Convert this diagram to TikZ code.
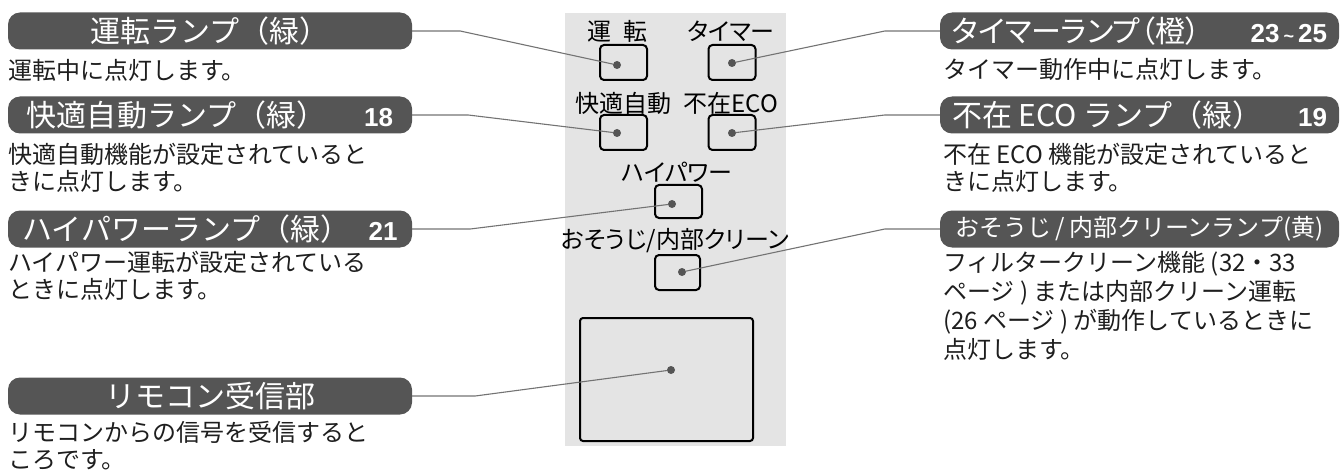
\documentclass[tikz,border=0pt]{standalone}
\usepackage{fontspec}
\newfontfamily\jp{Noto Sans CJK JP}
\newfontfamily\jpp[RawFeature=+palt]{Noto Sans CJK JP}
\newfontfamily\numf{Liberation Sans}
\usetikzlibrary{positioning}
\definecolor{pillgray}{RGB}{85,85,85}
\definecolor{panelgray}{RGB}{228,228,228}
\definecolor{leadgray}{RGB}{115,115,115}
\definecolor{descgray}{RGB}{30,30,30}
\tikzset{pill/.style={fill=pillgray,rounded corners=12pt,minimum height=37pt,inner sep=0pt,text=white,font=\jp\fontsize{30}{30}\selectfont},
         lpill/.style={pill,minimum width=404pt},
         rpill/.style={pill,minimum width=399pt},
         desc/.style={anchor=north west,inner sep=0pt,align=left,text=descgray,font=\jp\fontsize{24}{27}\selectfont},
         lamp/.style={draw,line width=2pt,rounded corners=4pt,minimum width=47pt,minimum height=35pt},
         ldot/.style={circle,fill=pillgray,inner sep=0pt,minimum size=8pt},
         tag/.style={inner sep=0pt,font=\jpp\fontsize{24}{24}\selectfont},
         lead/.style={leadgray,line width=1.1pt}}
\newcommand{\nr}[1]{{\numf\bfseries\fontsize{26}{26}\selectfont #1}}

\begin{document}
\begin{tikzpicture}[x=1pt,y=-1pt]
        \useasboundingbox(0,0)rectangle(1343,473);

        \node[fill=panelgray,minimum width=221pt,minimum height=433pt,inner sep=0pt](panel)at(675.5,229.5){};

        \node[tag](t1)at(617,31){運\hspace{12pt}転};
        \node[tag](t2)at(731,31){タイマー};
        \node[tag](t3)at(623,103){快適自動};
        \node[tag](t4)at(731,103){不在ECO};
        \node[tag](t5)at(677,172){ハイパワー};
        \node[tag](t6)at(675,241){おそうじ/内部クリーン};

        \node[lamp](k1)at(623.5,62.5){};
        \node[lamp](k2)at(732,62.5){};
        \node[lamp](k3)at(623.5,132.5){};
        \node[lamp](k4)at(732,132.5){};
        \node[lamp,minimum height=33pt](k5)at(678.5,201.5){};
        \node[lamp,minimum width=45pt](k6)at(677.5,272.5){};
        \node[lamp,rounded corners=3pt,minimum width=173pt,minimum height=123pt](k7)at(666.5,379.5){};

        \node[ldot](d1)at(617,65){};
        \node[ldot](d2)at(732,63){};
        \node[ldot](d3)at(617,133){};
        \node[ldot](d4)at(732,133){};
        \node[ldot](d5)at(672,204){};
        \node[ldot](d6)at(682,272){};
        \node[ldot](d7)at(671,370){};

        \node[lpill](l1)at(210,31){運転ランプ（緑）};
        \node[lpill](l2)at(210,115){\makebox[366pt]{快適自動ランプ（緑）\hfill\nr{18}}};
        \node[lpill](l3)at(210,229){\makebox[375pt]{ハイパワーランプ（緑）\hfill\nr{21}}};
        \node[lpill](l4)at(210,396){リモコン受信部};

        \node[rpill](r1)at(1139.5,31){\makebox[375pt]{\jpp タイマーランプ（橙）\hfill\nr{23\hspace{4pt}{\fontsize{18}{18}\selectfont\textasciitilde}\hspace{4pt}25}}};
        \node[rpill](r2)at(1139.5,115){\makebox[375pt]{不在 ECO ランプ（緑）\hfill\nr{19}}};
        \node[rpill,font=\jp\fontsize{24}{24}\selectfont](r3)at(1139.5,229){\makebox[372pt]{おそうじ\,/\,内部クリーンランプ(黄)}};

        \node[desc](e1)at(8,59){運転中に点灯します。};
        \node[desc](e2)at(8,143){快適自動機能が設定されていると\\きに点灯します。};
        \node[desc](e3)at(8,251){ハイパワー運転が設定されている\\ときに点灯します。};
        \node[desc](e4)at(8,421){リモコンからの信号を受信すると\\ころです。};
        \node[desc](f1)at(943,58){タイマー動作中に点灯します。};
        \node[desc](f2)at(943,143){不在 ECO 機能が設定されていると\\きに点灯します。};
        \node[desc,font=\jp\fontsize{24}{29}\selectfont](f3)at(943,251){フィルタークリーン機能 (32・33\\ページ ) または内部クリーン運転\\(26 ページ ) が動作しているときに\\点灯します。};

        \draw[lead](l1.east)--++(48,0)--(d1);
        \draw[lead](l2.east)--++(56,0)--(d3);
        \draw[lead](l3.east)--++(58,0)--(d5);
        \draw[lead](l4.east)--++(63,0)--(d7);
        \draw[lead](d2)--([xshift=-55pt]r1.west)--(r1.west);
        \draw[lead](d4)--([xshift=-55pt]r2.west)--(r2.west);
        \draw[lead](d6)--([xshift=-55pt]r3.west)--(r3.west);
\end{tikzpicture}
\end{document}
